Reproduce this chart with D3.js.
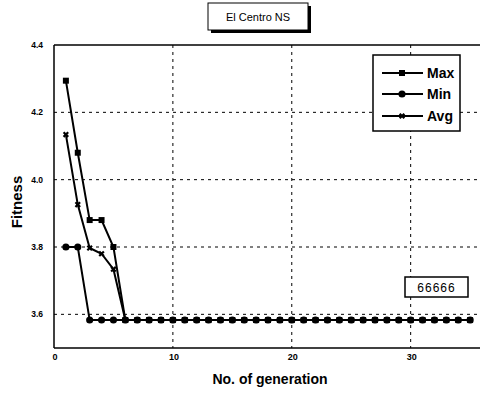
<!DOCTYPE html>
<html><head><meta charset="utf-8">
<script src="https://cdn.jsdelivr.net/npm/d3@7"></script>
<style>body{margin:0;background:#fff}svg{display:block}</style>
</head><body>
<svg id="c" width="480" height="393"></svg>
<script>
const title = "El Centro NS";
const xLabel = "No. of generation";
const yLabel = "Fitness";
const boxText = "66666";
const generations = d3.range(1, 36);
const maxVals = [4.294, 4.08, 3.88, 3.88, 3.80].concat(d3.range(6, 36).map(() => 3.583));
const minVals = [3.80, 3.80].concat(d3.range(3, 36).map(() => 3.583));
const avgVals = [4.134, 3.926, 3.797, 3.78, 3.734].concat(d3.range(6, 36).map(() => 3.583));
const xTicks = [0, 10, 20, 30];
const yTicks = [3.6, 3.8, 4.0, 4.2, 4.4];
const yTickLabels = ["3.6", "3.8", "4.0", "4.2", "4.4"];

const svg = d3.select("#c");
const x = d3.scaleLinear().domain([0, 36]).range([54, 482]);
const y = d3.scaleLinear().domain([3.5, 4.4]).range([348, 45]);

// grid
const g = svg.append("g");
g.selectAll(".hg").data(yTicks.filter(v => v < 4.4)).enter().append("line")
  .attr("x1", x(0)).attr("x2", 480).attr("y1", d => y(d)).attr("y2", d => y(d))
  .attr("stroke", "#000").attr("stroke-width", 1).attr("stroke-dasharray", "3,4");
g.selectAll(".vg").data(xTicks.filter(v => v > 0)).enter().append("line")
  .attr("x1", d => x(d)).attr("x2", d => x(d)).attr("y1", y(4.4)).attr("y2", y(3.5))
  .attr("stroke", "#000").attr("stroke-width", 1).attr("stroke-dasharray", "3,4");

// frame
svg.append("line").attr("x1", x(0)).attr("x2", 480).attr("y1", y(4.4)).attr("y2", y(4.4)).attr("stroke", "#000").attr("stroke-width", 1.5);
svg.append("line").attr("x1", x(0)).attr("x2", 480).attr("y1", y(3.5)).attr("y2", y(3.5)).attr("stroke", "#000").attr("stroke-width", 1.5);
svg.append("line").attr("x1", x(0)).attr("x2", x(0)).attr("y1", y(4.4)).attr("y2", y(3.5)).attr("stroke", "#000").attr("stroke-width", 1.5);

// ticks labels
svg.selectAll(".yt").data(yTicks).enter().append("text")
  .attr("x", 43).attr("y", d => y(d) + 3).attr("text-anchor", "end")
  .attr("font-family", "Liberation Sans, Arial").attr("font-size", 8.5).attr("font-weight", "bold")
  .text((d, i) => yTickLabels[i]);
svg.selectAll(".xt").data(xTicks).enter().append("text")
  .attr("x", d => x(d) + 1).attr("y", 360).attr("text-anchor", "middle")
  .attr("font-family", "Liberation Sans, Arial").attr("font-size", 9).attr("font-weight", "bold")
  .text(d => d);

// axis labels
svg.append("text").attr("x", 270).attr("y", 384).attr("text-anchor", "middle")
  .attr("font-family", "Liberation Sans, Arial").attr("font-size", 14).attr("font-weight", "bold").text(xLabel);
svg.append("text").attr("transform", "translate(22,202) rotate(-90)").attr("text-anchor", "middle")
  .attr("font-family", "Liberation Sans, Arial").attr("font-size", 15).attr("font-weight", "bold").text(yLabel);

// title box
svg.append("rect").attr("x", 211).attr("y", 6).attr("width", 100).attr("height", 27).attr("fill", "#000");
svg.append("rect").attr("x", 208).attr("y", 3).attr("width", 100).attr("height", 27).attr("fill", "#fff").attr("stroke", "#000").attr("stroke-width", 1);
svg.append("text").attr("x", 258).attr("y", 21).attr("text-anchor", "middle")
  .attr("font-family", "Liberation Sans, Arial").attr("font-size", 11).text(title);

// series
const line = d3.line().x((d, i) => x(generations[i])).y(d => y(d));
const series = [
  {name: "Max", vals: maxVals, sym: d3.symbolSquare, size: 36},
  {name: "Min", vals: minVals, sym: d3.symbolCircle, size: 40},
  {name: "Avg", vals: avgVals, sym: d3.symbolCross, size: 24}
];
series.forEach(s => {
  svg.append("path").datum(s.vals).attr("d", line).attr("fill", "none").attr("stroke", "#000").attr("stroke-width", 2);
});
series.forEach(s => {
  svg.selectAll(null).data(s.vals).enter().append("path")
    .attr("d", d3.symbol().type(s.sym).size(s.size))
    .attr("transform", (d, i) => `translate(${x(generations[i])},${y(d)})` + (s.name === "Avg" ? " rotate(45)" : ""))
    .attr("fill", "#000");
});

// legend
svg.append("rect").attr("x", 373).attr("y", 55).attr("width", 87).attr("height", 76)
  .attr("fill", "#fff").attr("stroke", "#000").attr("stroke-width", 1.5);
const ly = [73, 94, 116];
series.forEach((s, i) => {
  svg.append("line").attr("x1", 382).attr("x2", 423).attr("y1", ly[i]).attr("y2", ly[i]).attr("stroke", "#000").attr("stroke-width", 2);
  svg.append("path").attr("d", d3.symbol().type(s.sym).size(s.size))
    .attr("transform", `translate(402,${ly[i]})` + (s.name === "Avg" ? " rotate(45)" : "")).attr("fill", "#000");
  svg.append("text").attr("x", 427).attr("y", ly[i] + 5).attr("font-family", "Liberation Sans, Arial")
    .attr("font-size", 14).attr("font-weight", "bold").text(s.name);
});

// 66666 box
svg.append("rect").attr("x", 405).attr("y", 277).attr("width", 63).attr("height", 20)
  .attr("fill", "#fff").attr("stroke", "#000").attr("stroke-width", 1.5);
svg.append("text").attr("x", 436.5).attr("y", 292).attr("text-anchor", "middle")
  .attr("font-family", "Liberation Sans, Arial").attr("font-size", 12).attr("letter-spacing", 1).text(boxText);
</script>
</body></html>
